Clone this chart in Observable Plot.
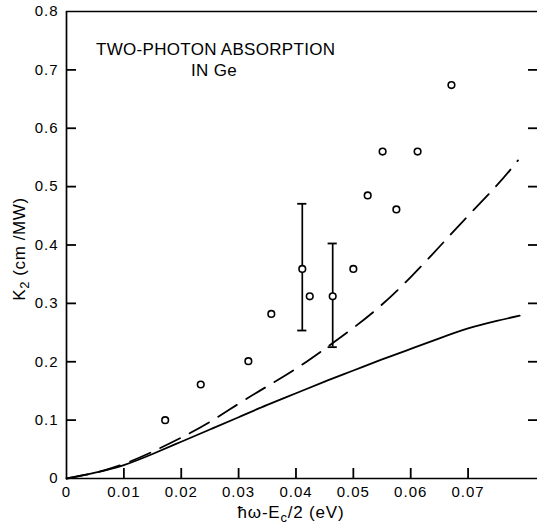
<!DOCTYPE html>
<html>
<head>
<meta charset="utf-8">
<script src="https://cdn.jsdelivr.net/npm/d3@7"></script>
<script src="https://cdn.jsdelivr.net/npm/@observablehq/plot@0.6"></script>
<style>
  html, body { margin: 0; padding: 0; background: #fff; }
  #chart svg { display: block; }
</style>
</head>
<body>
<div id="chart"></div>
<script>
// ---- data ----
// measured points (hbar*omega - Eg/2 in eV, K2 in cm/MW)
const ptX = [0.0172, 0.0234, 0.0317, 0.0357, 0.0411, 0.0424, 0.0464, 0.0500, 0.0525, 0.0551, 0.0575, 0.0612, 0.0671];
const ptY = [0.100, 0.161, 0.201, 0.282, 0.359, 0.312, 0.312, 0.359, 0.485, 0.560, 0.461, 0.560, 0.674];

// error bars
const errX  = [0.0411, 0.0464];
const errLo = [0.2535, 0.225];
const errHi = [0.4706, 0.4026];

// theory curves
const curveX      = [0, 0.005, 0.01, 0.015, 0.02, 0.025, 0.03, 0.035, 0.04, 0.045, 0.05, 0.055, 0.06, 0.065, 0.07, 0.075, 0.079];
const solidY      = [0, 0.010, 0.023, 0.042, 0.063, 0.084, 0.105, 0.126, 0.146, 0.166, 0.185, 0.204, 0.222, 0.240, 0.257, 0.270, 0.279];
const dashedX     = [0, 0.005, 0.01, 0.015, 0.02, 0.025, 0.03, 0.035, 0.04, 0.045, 0.05, 0.055, 0.06, 0.065, 0.07, 0.075, 0.0787];
const dashedY     = [0, 0.010, 0.025, 0.046, 0.070, 0.097, 0.128, 0.158, 0.188, 0.222, 0.258, 0.298, 0.345, 0.397, 0.450, 0.502, 0.545];

// ticks
const xTicks = [0, 0.01, 0.02, 0.03, 0.04, 0.05, 0.06, 0.07];
const yTicks = [0, 0.1, 0.2, 0.3, 0.4, 0.5, 0.6, 0.7, 0.8];
const xTickLabels = ["0", "0.01", "0.02", "0.03", "0.04", "0.05", "0.06", "0.07"];
const yTickLabels = ["0", "0.1", "0.2", "0.3", "0.4", "0.5", "0.6", "0.7", "0.8"];

const titleLine1 = "TWO-PHOTON ABSORPTION";
const titleLine2 = "IN Ge";

// ---- build tables ----
const points = ptX.map((x, i) => ({x, y: ptY[i]}));
const errs = errX.map((x, i) => ({x, lo: errLo[i], hi: errHi[i]}));
const solid = curveX.map((x, i) => ({x, y: solidY[i]}));
const dashed = dashedX.map((x, i) => ({x, y: dashedY[i]}));

const FONT = "'Liberation Sans', Arial, Helvetica, sans-serif";
const W = 537, H = 531, ML = 66, MR = 0, MT = 11, MB = 53;
const frameW = W - ML - MR, frameH = H - MT - MB;
const CAP = 0.0008; // half-width of error-bar caps in x units (~4.5px)

const chart = Plot.plot({
  width: W,
  height: H,
  marginLeft: ML,
  marginRight: MR,
  marginTop: MT,
  marginBottom: MB,
  style: {fontFamily: FONT, fontSize: "15px", color: "#000", background: "#fff"},
  x: {domain: [0, 0.0821]},
  y: {domain: [0, 0.8]},
  marks: [
    // frame lines (left, bottom, top)
    Plot.ruleX([0], {stroke: "#000", strokeWidth: 1.7}),
    Plot.ruleY([0, 0.8], {stroke: "#000", strokeWidth: 1.7}),
    // inward tick marks
    Plot.ruleY(yTicks.slice(1, -1), {y: (d) => d, insetRight: frameW - 10, stroke: "#000", strokeWidth: 1.8}),
    Plot.ruleY(yTicks.slice(1, -1), {y: (d) => d, insetLeft: frameW - 9, stroke: "#000", strokeWidth: 1.8}),
    Plot.ruleX(xTicks.slice(1), {x: (d) => d, insetTop: frameH - 10, stroke: "#000", strokeWidth: 1.8}),
    // tick labels
    Plot.axisY(yTicks, {anchor: "left", tickSize: 0, tickPadding: 8, fontSize: 15,
      tickFormat: (d) => yTickLabels[yTicks.indexOf(d)], label: null}),
    Plot.axisX(xTicks, {anchor: "bottom", tickSize: 0, tickPadding: 8, fontSize: 15,
      tickFormat: (d) => xTickLabels[xTicks.indexOf(d)], label: null}),
    // theory curves
    Plot.line(solid, {x: "x", y: "y", curve: "natural", stroke: "#000", strokeWidth: 1.8}),
    Plot.line(dashed, {x: "x", y: "y", curve: "natural", stroke: "#000", strokeWidth: 1.8, strokeDasharray: "22,11"}),
    // error bars
    Plot.ruleX(errs, {x: "x", y1: "lo", y2: "hi", stroke: "#000", strokeWidth: 1.7}),
    Plot.ruleY(errs, {y: "hi", x1: (d) => d.x - CAP, x2: (d) => d.x + CAP, stroke: "#000", strokeWidth: 1.8}),
    Plot.ruleY(errs, {y: "lo", x1: (d) => d.x - CAP, x2: (d) => d.x + CAP, stroke: "#000", strokeWidth: 1.8}),
    // data points
    Plot.dot(points, {x: "x", y: "y", r: 3.3, stroke: "#000", strokeWidth: 1.6, fill: "#fff"})
  ]
});

document.getElementById("chart").appendChild(chart);

const svg = d3.select(chart);
svg.selectAll("text").attr("letter-spacing", 1);

// title
svg.append("text")
  .attr("x", 96).attr("y", 55).attr("text-anchor", "start")
  .attr("font-family", FONT).attr("font-size", 17).attr("letter-spacing", 0.3)
  .attr("fill", "#000")
  .text(titleLine1);
svg.append("text")
  .attr("x", 214).attr("y", 76).attr("text-anchor", "middle")
  .attr("font-family", FONT).attr("font-size", 17).attr("letter-spacing", 0.3)
  .attr("fill", "#000")
  .text(titleLine2);

// y-axis label: K_2 (cm /MW)
const yl = svg.append("text")
  .attr("transform", "translate(25,249) rotate(-90)")
  .attr("text-anchor", "middle")
  .attr("font-family", FONT).attr("font-size", 17).attr("letter-spacing", 0.6)
  .attr("fill", "#000");
yl.append("tspan").text("K");
yl.append("tspan").attr("dy", 4).attr("font-size", 13).text("2");
yl.append("tspan").attr("dy", -4).text(" (cm /MW)");

// x-axis label: hbar omega - E_c/2 (eV)
const xl = svg.append("text")
  .attr("x", 291).attr("y", 518).attr("text-anchor", "middle")
  .attr("font-family", FONT).attr("font-size", 17).attr("letter-spacing", 0.8)
  .attr("fill", "#000");
xl.append("tspan").text("ħω-E");
xl.append("tspan").attr("dy", 4).attr("font-size", 13).text("c");
xl.append("tspan").attr("dy", -4).text("/2 (eV)");
</script>
</body>
</html>
